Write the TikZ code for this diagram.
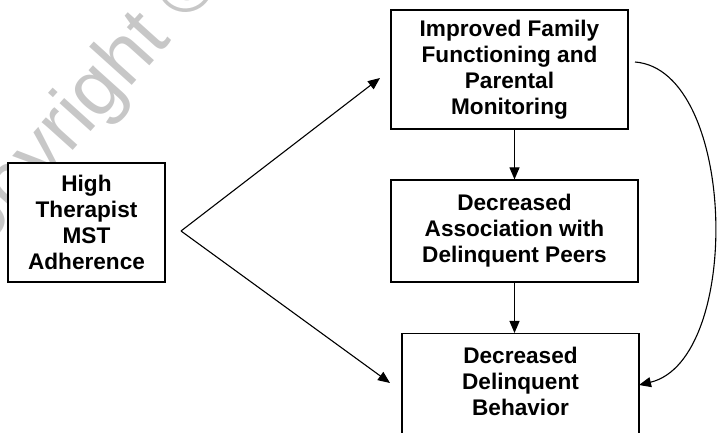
\documentclass[tikz,border=0pt]{standalone}
\usepackage{fontspec}
\setmainfont{Liberation Sans}
\usetikzlibrary{arrows.meta}
\begin{document}
\begin{tikzpicture}[x=1bp,y=-1bp,
  box/.style={draw=black, line width=1.2bp, fill=white, align=center,
    font=\bfseries\fontsize{22.6bp}{26bp}\selectfont, inner sep=0pt},
  boxlabel/.style={align=center, font=\bfseries\fontsize{22.6bp}{26bp}\selectfont, inner sep=0pt},
  arr/.style={line width=1.1bp, -{Triangle[length=12bp,width=10bp]}},
  wmark/.style={text=black!22, font=\fontsize{79bp}{79bp}\selectfont, inner sep=0pt}
]
\useasboundingbox (0,0) rectangle (717,433);
\clip (0,0) rectangle (717,433);
\node[wmark, rotate=48, anchor=base west] (wm) at (-54,292) {Copyright ©};
\node[box, minimum width=157bp, minimum height=119bp] (A) at (86.5,222.5)
  {High\\Therapist\\MST\\Adherence};
\node[box, minimum width=237bp, minimum height=119bp] (B) at (509.5,69.5)
  {Improved Family\\Functioning and\\Parental\\Monitoring};
\node[box, minimum width=247bp, minimum height=102bp] (C) at (514.5,231)
  {Decreased\\Association with\\Delinquent Peers};
\node[box, minimum width=237bp, minimum height=140bp, anchor=north] (D) at (520.5,333) {};
\node[boxlabel, anchor=north] (Dt) at (520.5,347) {Decreased\\Delinquent\\Behavior};
\coordinate (v) at (181,231);
\coordinate (t1) at (380,78);
\coordinate (t2) at (390,383);
\coordinate (cs) at (635,62);
\coordinate (ce) at (639,385);
\draw[arr] (v) -- (t1);
\draw[arr] (v) -- (t2);
\draw[arr] (B.south -| C.north) -- (C.north);
\draw[arr] (C.south) -- (D.north -| C.south);
\draw[arr] (cs) .. controls (737,70) and (743,360) .. (ce);
\end{tikzpicture}
\end{document}
